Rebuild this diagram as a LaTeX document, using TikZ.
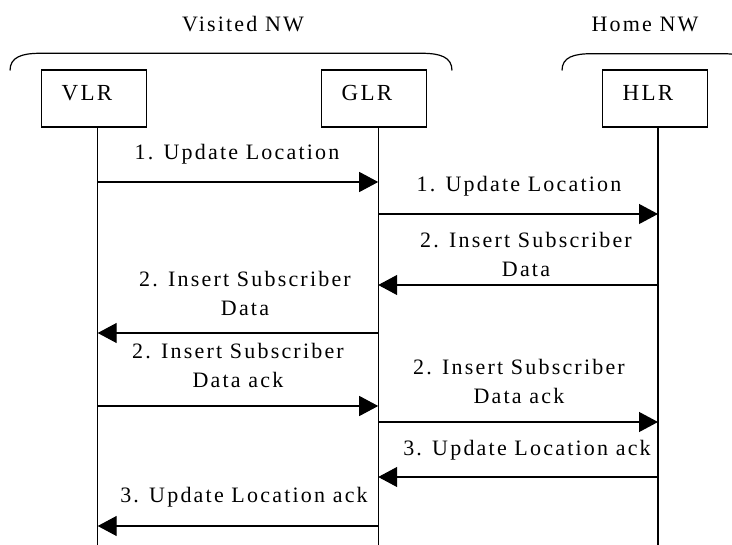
\documentclass[tikz,border=0pt]{standalone}
\usepackage{fontspec}
\setmainfont{Liberation Serif}
\newfontfamily\lsfont{Liberation Serif}[LetterSpace=10]
\usetikzlibrary{arrows.meta}
\begin{document}
\begin{tikzpicture}[x=1pt,y=-1pt,
  ln/.style={line width=1.2pt},
  boxst/.style={draw, line width=1.2pt, text width=65pt, align=left,
    inner xsep=20pt, inner ysep=5pt, text height=26pt, text depth=21pt,
    font=\lsfont\fontsize{23}{27}\selectfont},
  ttl/.style={anchor=base, inner sep=0pt, font=\lsfont\fontsize{22}{27}\selectfont},
  lbl/.style={anchor=base, inner sep=0pt, align=center, font=\lsfont\fontsize{22}{28.5}\selectfont},
  msg/.style={line width=1.2pt, -{Triangle[length=19pt,width=20pt]}}]
\useasboundingbox (0,0) rectangle (732,545);
\clip (0,0) rectangle (732,545);
\fill[white] (0,0) rectangle (732,545);
% titles
\node[ttl] (tv) at (243,31.7) {Visited NW};
\node[ttl] (th) at (645,31.7) {Home NW};
% braces
\draw[ln] (10,70.5) .. controls (10,57) and (22,53.3) .. (40,53.3) -- (422,53.3)
  .. controls (440,53.3) and (452,57) .. (452,70.5);
\draw[ln] (562,70.5) .. controls (562,57) and (574,53.7) .. (592,53.7) -- (722,53.7)
  .. controls (740,53.7) and (752,57) .. (752,70.5);
% boxes
\node[boxst] (vlr) at (94.2,98.5) {VLR};
\node[boxst] (glr) at (374.2,98.5) {GLR};
\node[boxst] (hlr) at (655.2,98.5) {HLR};
% lifelines
\coordinate (vt) at (97.7,0 |- vlr.south);
\coordinate (gt) at (378.2,0 |- glr.south);
\coordinate (ht) at (658,0 |- hlr.south);
\coordinate (vb) at (97.7,545);
\coordinate (gb) at (378.2,545);
\coordinate (hb) at (658,545);
\draw[ln] (vt) -- (vb);
\draw[ln] (gt) -- (gb);
\draw[ln] (ht) -- (hb);
% messages
\draw[msg] (vt |- 0,182) -- (gt |- 0,182);
\draw[msg] (gt |- 0,214) -- (ht |- 0,214);
\draw[msg] (ht |- 0,285) -- (gt |- 0,285);
\draw[msg] (gt |- 0,333) -- (vt |- 0,333);
\draw[msg] (vt |- 0,406) -- (gt |- 0,406);
\draw[msg] (gt |- 0,422) -- (ht |- 0,422);
\draw[msg] (ht |- 0,477) -- (gt |- 0,477);
\draw[msg] (gt |- 0,526) -- (vt |- 0,526);
% labels
\node[lbl] (m1) at (237,159.3) {1. Update Location};
\node[lbl] (m2) at (519,191.3) {1. Update Location};
\node[lbl] (m3) at (526,276.3) {2. Insert Subscriber\\Data};
\node[lbl] (m4) at (245,315.3) {2. Insert Subscriber\\Data};
\node[lbl] (m5) at (238,387.3) {2. Insert Subscriber\\Data ack};
\node[lbl] (m6) at (519,403.3) {2. Insert Subscriber\\Data ack};
\node[lbl] (m7) at (527,455.3) {3. Update Location ack};
\node[lbl] (m8) at (244,502.3) {3. Update Location ack};
\end{tikzpicture}
\end{document}
